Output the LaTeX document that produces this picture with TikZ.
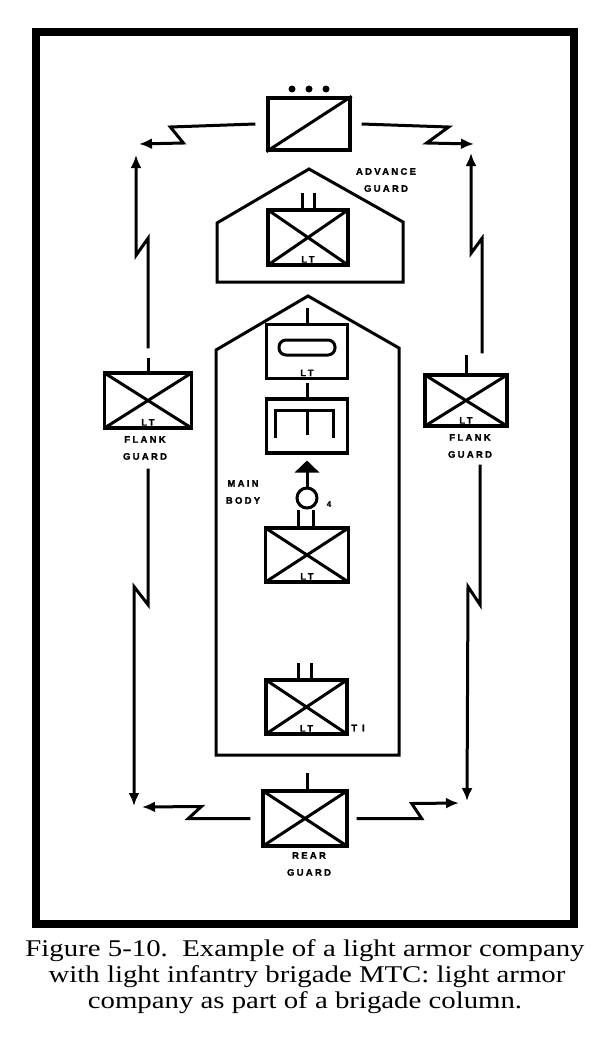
\documentclass[tikz,border=0pt]{standalone}
\usepackage{fontspec}
\newfontfamily\capfont[FakeStretch=1.2]{Liberation Serif}
\newfontfamily\lblfont[LetterSpace=24,BoldFeatures={FakeBold=1.5}]{Liberation Sans}
\usetikzlibrary{arrows.meta}

\begin{document}
\begin{tikzpicture}[x=1pt,y=-1pt,line width=3pt,
    unitbox/.style={draw,line width=3.3pt,inner sep=0pt,minimum width=81pt,minimum height=54pt},
    xbox/.style={unitbox,path picture={\draw[line width=3pt]
        (path picture bounding box.north west) -- (path picture bounding box.south east)
        (path picture bounding box.north east) -- (path picture bounding box.south west);}},
    lbl/.style={font=\lblfont\bfseries\fontsize{9.5}{17}\selectfont,align=center,inner sep=0pt},
    lt/.style={anchor=south,inner sep=2.5pt,font=\lblfont\bfseries\fontsize{9.5}{9.5}\selectfont},
    tip/.style={-{Latex[length=13pt,width=11pt]}},
    captext/.style={font=\capfont\fontsize{24}{26}\selectfont,anchor=base,inner sep=0pt}]
      \useasboundingbox (0,0) rectangle (610,1060);
      \draw[line width=8pt] (36,32) rectangle (574,924);

      \node[unitbox,minimum width=82pt,minimum height=52pt] (hq) at (309,124) {};
      \draw (hq.south west) -- (hq.north east);
      \foreach \x in {292,309,326} \fill (\x,89) circle (3.5pt);

      \draw (217,282) -- (217,223) -- (309,169) -- (403,222) -- (403,282) -- cycle;
      \node[lbl] (advlbl) at (386,180) {ADVANCE\\GUARD};
      \node[xbox,minimum width=80pt,minimum height=55pt,label={[lt]south:LT}] (adv) at (308,237.5) {};
      \draw ([xshift=-6pt]adv.north) -- ++(0,-15);
      \draw ([xshift=6pt]adv.north) -- ++(0,-15);

      \draw (216,755) -- (216,350) -- (308,296) -- (399,348) -- (399,755) -- cycle;
      \node[lbl] (mainlbl) at (243,492) {MAIN\\BODY};
      \node[unitbox,label={[lt]south:LT}] (arm) at (307,351.5) {};
      \draw (arm.north) -- ++(0,-15);
      \draw[rounded corners=7pt] (279,340) rectangle (335,355);
      \node[unitbox] (eng) at (307,426) {};
      \draw (eng.north) -- ++(0,-14);
      \draw (275,438) -- (275,410) -- (333,410) -- (333,438);
      \draw (307,410) -- (307,435);
      \node[circle,draw,minimum size=20pt,inner sep=0pt] (cp) at (307,498) {};
      \node[lbl,font=\lblfont\bfseries\fontsize{8}{8}\selectfont] (cplbl) at (329,504) {4};
      \draw[-{Triangle[length=12pt,width=24pt]}] (cp.north) -- ++(0,-26);
      \node[xbox,minimum width=83pt,label={[lt]south:LT}] (mb1) at (307,555) {};
      \draw ([xshift=-9pt]mb1.north) -- ++(0,-16);
      \draw ([xshift=6pt]mb1.north) -- ++(0,-16);
      \node[xbox,label={[lt]south:LT}] (mb2) at (306.5,707) {};
      \draw ([xshift=-8pt]mb2.north) -- ++(0,-15);
      \draw ([xshift=5pt]mb2.north) -- ++(0,-15);
      \node[lbl] (mb2lbl) at (358,728) {T I};

      \node[xbox,minimum width=87pt,minimum height=55pt,label={[lt]south:LT}] (lfg) at (148,400.5) {};
      \draw (lfg.north) -- ++(0,-13);
      \node[lbl] (lfglbl) at (145,448) {FLANK\\GUARD};
      \node[xbox,minimum width=82pt,minimum height=51pt,label={[lt]south:LT}] (rfg) at (466,400.5) {};
      \draw (rfg.north) -- ++(0,-18);
      \node[lbl] (rfglbl) at (470,446) {FLANK\\GUARD};
      \node[xbox,minimum width=84pt,minimum height=55pt] (rg) at (305,818.5) {};
      \draw ([xshift=2pt]rg.north) -- ++(0,-16);
      \node[lbl] (rglbl) at (309,864) {REAR\\GUARD};

      \coordinate (tlarr) at (139,144);
      \coordinate (trarr) at (474,144);
      \coordinate (ltarr) at (136,155);
      \coordinate (rtarr) at (471,153);
      \coordinate (lbarr) at (134,806);
      \coordinate (rbarr) at (467,801);
      \coordinate (blarr) at (142,807);
      \coordinate (brarr) at (459,803);

      \draw[tip] ([xshift=-11pt]hq.west) -- ++(-85,3) -- ++(13,16) -- (tlarr);
      \draw[tip] ([xshift=10pt]hq.east) -- ++(87,3) -- ++(-22,16) -- (trarr);
      \draw[tip] ([yshift=23pt]lfg.north) -- ++(0,-110) -- ++(-12,17) -- (ltarr);
      \draw[tip] ([xshift=16pt,yshift=20pt]rfg.north) -- ++(0,-115) -- ++(-11,15) -- (rtarr);
      \draw[tip] ([yshift=-39pt]lfg.south) -- ++(0,136) -- ++(-14,-18) -- (lbarr);
      \draw[tip] ([xshift=14pt,yshift=-37pt]rfg.south) -- ++(0,140) -- ++(-12,-18) -- (rbarr);
      \draw[tip] ([xshift=-11pt]rg.west) -- ++(-62,0) -- ++(13,-12) -- (blarr);
      \draw[tip] ([xshift=8pt]rg.east) -- ++(65,0) -- ++(-10,-15) -- (brarr);

      \node[captext] (cap1) at (305,956) {Figure 5-10.\ \ Example of a light armor company};
      \node[captext] (cap2) at (307,982) {with light infantry brigade MTC: light armor};
      \node[captext] (cap3) at (305,1008) {company as part of a brigade column.};
\end{tikzpicture}
\end{document}
